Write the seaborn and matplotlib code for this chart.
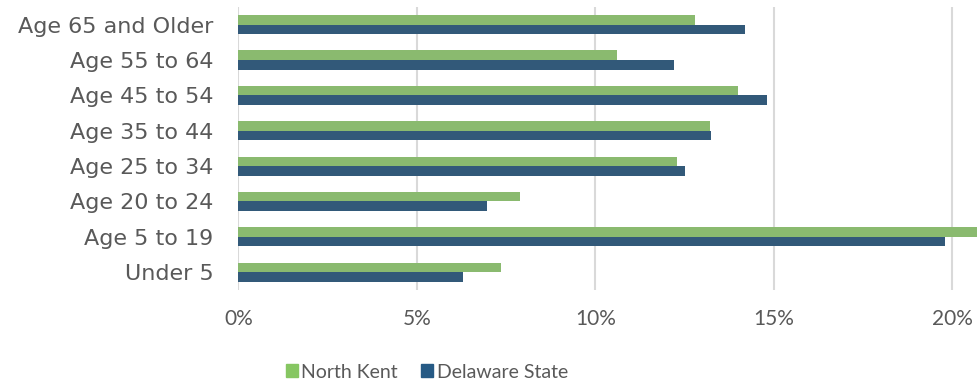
import matplotlib
matplotlib.use("Agg")
import matplotlib.pyplot as plt
import matplotlib.patches as mpatches
import pandas as pd
import seaborn as sns

AGE_GROUPS = ["Age 65 and Older", "Age 55 to 64", "Age 45 to 54", "Age 35 to 44",
              "Age 25 to 34", "Age 20 to 24", "Age 5 to 19", "Under 5"]
NORTH_KENT = [12.8, 10.6, 14.0, 13.2, 12.3, 7.9, 21.0, 7.35]
DELAWARE = [14.2, 12.2, 14.8, 13.25, 12.5, 6.97, 19.8, 6.28]
SERIES = ["North Kent", "Delaware State"]
X_TICKS = [0, 5, 10, 15, 20]

PALETTE = {"North Kent": "#86C662", "Delaware State": "#265A85"}
TEXT = "#595959"
GRID = "#D9D9D9"

df = pd.DataFrame({
    "group": AGE_GROUPS * 2,
    "series": [SERIES[0]] * len(AGE_GROUPS) + [SERIES[1]] * len(AGE_GROUPS),
    "pct": NORTH_KENT + DELAWARE,
})

sns.set_style("white")
plt.rcParams["font.family"] = ["Lato", "DejaVu Sans"]

fig = plt.figure(figsize=(9.77, 3.83), dpi=100)
ax = fig.add_axes([0.244, 0.243, 0.756, 0.739])

sns.barplot(data=df, y="group", x="pct", hue="series", order=AGE_GROUPS,
            hue_order=SERIES, palette=PALETTE, orient="h", width=0.54,
            linewidth=0, legend=False, ax=ax)

ax.set_xlim(0, 20.69)
ax.set_ylim(7.5, -0.5)
ax.set_xticks(X_TICKS)
ax.set_xticklabels([f"{t}%" for t in X_TICKS])
ax.grid(axis="x", color=GRID, linewidth=1.5)
ax.set_axisbelow(True)
for s in ax.spines.values():
    s.set_visible(False)
ax.set_xlabel("")
ax.set_ylabel("")
ax.tick_params(axis="both", length=0, colors=TEXT, labelsize=15)
ax.tick_params(axis="y", pad=18)
ax.tick_params(axis="x", pad=14)
for lbl in ax.get_yticklabels():
    lbl.set_fontfamily(["DejaVu Sans"])
    lbl.set_fontsize(16)

handles = [mpatches.Patch(color=PALETTE[s], label=s) for s in SERIES]
fig.legend(handles=handles, loc="center", bbox_to_anchor=(427 / 977, 1 - 372 / 383),
           ncol=2, frameon=False, fontsize=14, labelcolor=TEXT,
           handlelength=0.6, handleheight=0.6, handletextpad=0.2, columnspacing=1.2)

fig.savefig("out.png", dpi=100)
